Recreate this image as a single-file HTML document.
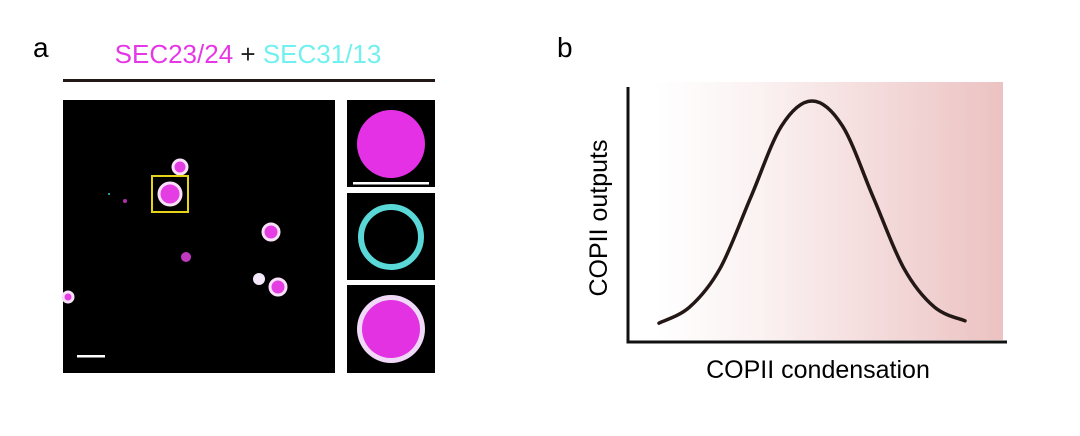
<!DOCTYPE html>
<html><head><meta charset="utf-8"><style>
body{margin:0;background:#fff;width:1080px;height:436px;overflow:hidden}
svg{display:block;font-family:"Liberation Sans",sans-serif}
</style></head><body>
<svg width="1080" height="436" viewBox="0 0 1080 436">
<defs>
<linearGradient id="bg" x1="0" x2="1" y1="0" y2="0">
<stop offset="0" stop-color="#fff"/><stop offset="0.3" stop-color="#fbf2f2"/><stop offset="1" stop-color="#ecc2c2"/>
</linearGradient>
</defs>
<text x="33" y="57" font-size="28">a</text>
<text x="248" y="63" font-size="26" text-anchor="middle"><tspan fill="#e637e6">SEC23/24</tspan><tspan fill="#222"> + </tspan><tspan fill="#72f0f0">SEC31/13</tspan></text>
<rect x="63" y="79" width="372" height="3" fill="#231815"/>
<g>
<rect x="63" y="100" width="272" height="273" fill="#000"/>
<g fill="#e43de4" stroke="#f8e0f8" stroke-width="3">
<circle cx="180" cy="167" r="7"/><circle cx="170" cy="194" r="11"/><circle cx="271" cy="232" r="8"/>
<circle cx="278" cy="287" r="8"/><circle cx="68" cy="297" r="5"/>
</g>
<circle cx="186" cy="257" r="5" fill="#c03ac0"/>
<circle cx="259" cy="279" r="6" fill="#f4e8fa"/>
<circle cx="125" cy="201" r="2" fill="#b030b0"/>
<circle cx="109" cy="194" r="1" fill="#3cc"/>
<rect x="152" y="176" width="36" height="36" fill="none" stroke="#e5d41a" stroke-width="2"/>
<rect x="77" y="355" width="28" height="2.5" fill="#fff"/>
</g>
<g><rect x="347" y="100" width="88" height="87" fill="#000"/>
<circle cx="391" cy="144" r="34" fill="#e531e5"/>
<rect x="353" y="182" width="76" height="2.5" fill="#fff"/></g>
<g><rect x="347" y="193" width="88" height="87" fill="#000"/>
<circle cx="391" cy="237" r="30" fill="none" stroke="#5ad7d7" stroke-width="6"/></g>
<g><rect x="347" y="285" width="88" height="88" fill="#000"/>
<circle cx="391" cy="329" r="34" fill="#f0d8f8"/><circle cx="391" cy="329" r="29" fill="#e232e2"/></g>

<text x="557" y="57" font-size="28">b</text>
<rect x="655" y="82" width="348" height="258" fill="url(#bg)"/>
<path d="M628 87V342H1007" fill="none" stroke="#111" stroke-width="3"/>
<path id="curve" fill="none" stroke="#231815" stroke-width="3.5" stroke-linecap="round"/>
<text x="818" y="378" font-size="25" text-anchor="middle">COPII condensation</text>
<text transform="translate(607 218) rotate(-90)" font-size="25" text-anchor="middle">COPII outputs</text>
</svg>
<script>
const condensation=[0,1,2,3,4,5,6,7,8,9,10];
const outputs=[0.03,0.10,0.27,0.58,0.89,1.0,0.89,0.58,0.27,0.10,0.04];
const xs=v=>659+v*(965-659)/10, ys=v=>330-v*229;
const p=condensation.map((c,i)=>[xs(c),ys(outputs[i])]);
let d='M'+p[0][0]+' '+p[0][1];
for(let i=0;i<p.length-1;i++){const a=p[Math.max(0,i-1)],b=p[i],c=p[i+1],e=p[Math.min(p.length-1,i+2)];
d+=` C${b[0]+(c[0]-a[0])/6} ${b[1]+(c[1]-a[1])/6} ${c[0]-(e[0]-b[0])/6} ${c[1]-(e[1]-b[1])/6} ${c[0]} ${c[1]}`;}
document.getElementById('curve').setAttribute('d',d);
</script>
</body></html>
